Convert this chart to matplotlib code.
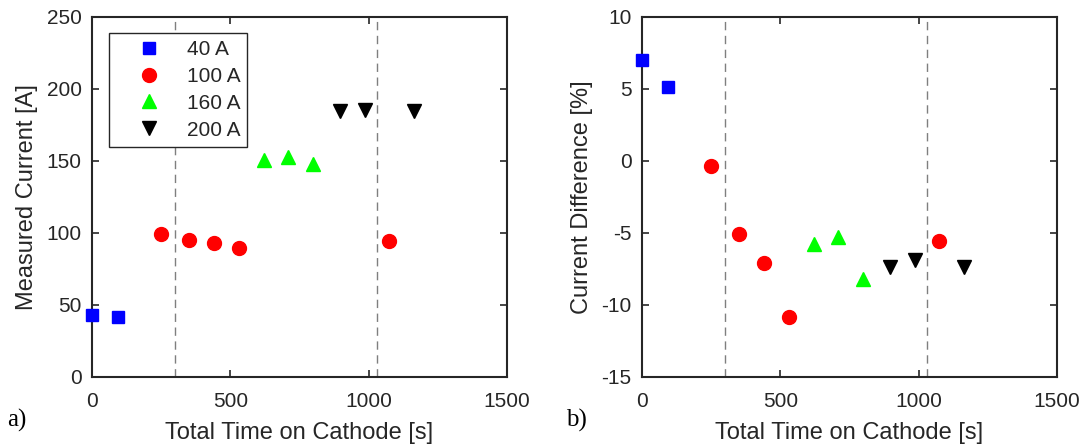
import matplotlib
matplotlib.use("Agg")
from matplotlib import pyplot as plt

# time on cathode [s] for each current setting
t40 = [0, 95]
t100 = [250, 350, 440, 530, 1075]
t160 = [620, 710, 800]
t200 = [895, 985, 1165]

# measured current [A]
I40 = [43, 42]
I100 = [99.5, 95, 93, 89.5, 94.5]
I160 = [151, 152.5, 148]
I200 = [184.5, 185.5, 184.5]

# current difference [%]
d40 = [7.0, 5.15]
d100 = [-0.35, -5.1, -7.05, -10.8, -5.55]
d160 = [-5.75, -5.3, -8.2]
d200 = [-7.35, -6.9, -7.35]

labels = ["40 A", "100 A", "160 A", "200 A"]
vlines = [300, 1030]

plt.rcParams["font.family"] = ["Liberation Sans", "DejaVu Sans"]
plt.rcParams["axes.unicode_minus"] = False
dark = "#262626"

styles = [
    dict(marker="s", color="#0000ff", ms=8),
    dict(marker="o", color="#ff0000", ms=10),
    dict(marker="^", color="#00ff00", ms=10.5),
    dict(marker="v", color="#000000", ms=10.5),
]


def setup(ax, ylim, yticks, ylabel):
    for x in vlines:
        ax.axvline(x, color="#7f7f7f", ls=(0, (6, 4)), lw=1.0, zorder=1)
    ax.set_xlim(0, 1500)
    ax.set_xticks([0, 500, 1000, 1500])
    ax.set_ylim(*ylim)
    ax.set_yticks(yticks)
    ax.tick_params(direction="in", top=True, right=True, length=5, width=1.2,
                   colors=dark, labelsize=15)
    ax.tick_params(axis="x", pad=11)
    ax.tick_params(axis="y", pad=7.5)
    for sp in ax.spines.values():
        sp.set_linewidth(1.5)
        sp.set_color(dark)
    ax.set_xlabel("Total Time on Cathode [s]", fontsize=17, color=dark, labelpad=8)
    ax.set_ylabel(ylabel, fontsize=17, color=dark, labelpad=6)


fig = plt.figure(figsize=(10.84, 4.46), dpi=100)
ax1 = fig.add_axes([92 / 1084, 69 / 446, 415 / 1084, 360 / 446])
ax2 = fig.add_axes([642 / 1084, 69 / 446, 415 / 1084, 360 / 446])

ts = [t40, t100, t160, t200]
Is = [I40, I100, I160, I200]
ds = [d40, d100, d160, d200]

for t, I, d, lab, st in zip(ts, Is, ds, labels, styles):
    ax1.plot(t, I, ls="none", marker=st["marker"], color=st["color"],
             ms=st["ms"], mec=st["color"], label=lab, zorder=3, clip_on=False)
    ax2.plot(t, d, ls="none", marker=st["marker"], color=st["color"],
             ms=st["ms"], mec=st["color"], label=lab, zorder=3, clip_on=False)

setup(ax1, (0, 250), [0, 50, 100, 150, 200, 250], "Measured Current [A]")
setup(ax2, (-15, 10), [-15, -10, -5, 0, 5, 10], "Current Difference [%]")

leg = ax1.legend(loc="upper left", bbox_to_anchor=(17 / 415, 1 - 16 / 360),
                 fontsize=15, frameon=True, fancybox=False, edgecolor=dark,
                 framealpha=1, handletextpad=0.2, labelspacing=0.38,
                 borderpad=0.33, handlelength=3.2, borderaxespad=0)
leg.get_frame().set_linewidth(1.0)
for txt in leg.get_texts():
    txt.set_color(dark)

fig.text(7 / 1084, 1 - 420 / 446, "a)", family="Liberation Serif", fontsize=18,
         va="center", ha="left")
fig.text(566 / 1084, 1 - 420 / 446, "b)", family="Liberation Serif", fontsize=18,
         va="center", ha="left")

fig.savefig("out.png", dpi=100)
